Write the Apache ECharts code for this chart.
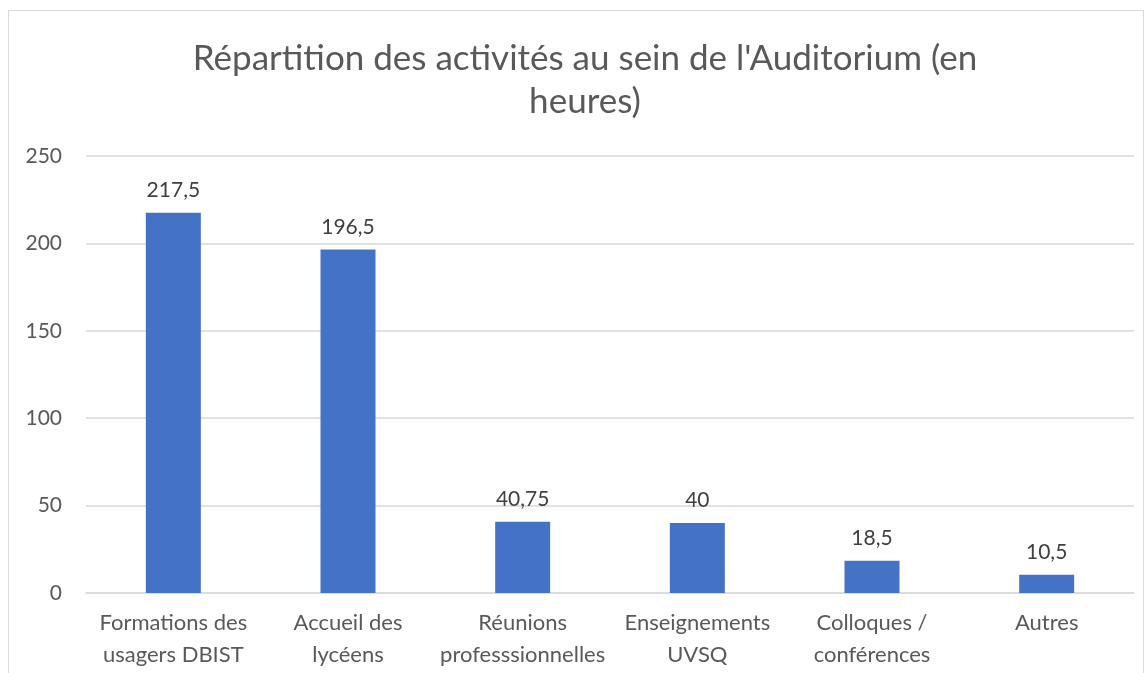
<!DOCTYPE html>
<html>
<head>
    <meta charset="utf-8">
    <title>ECharts</title>
    <script src="https://cdn.jsdelivr.net/npm/echarts@6/dist/echarts.min.js"></script>
    <style>
        body { margin: 0; background: #fff; }
        #main { position: absolute; left: 8px; top: 10px; width: 1134px; height: 680px; border: 1px solid #d9d9d9; }
    </style>
</head>
<body>
    <div id="main"></div>
    <script type="text/javascript">
        var categories = ['Formations des\nusagers DBIST', 'Accueil des\nlycéens', 'Réunions\nprofesssionnelles', 'Enseignements\nUVSQ', 'Colloques /\nconférences', 'Autres'];
        var heures = [217.5, 196.5, 40.75, 40, 18.5, 10.5];
        var yTicks = [0, 50, 100, 150, 200, 250];

        var myChart = echarts.init(document.getElementById('main'));
        var font = 'Lato, "Open Sans", sans-serif';
        var option = {
            backgroundColor: '#fff',
            animation: false,
            title: {
                text: "Répartition des activités au sein de l'Auditorium (en\nheures)",
                left: 576,
                textAlign: 'center',
                top: 26,
                padding: 0,
                textStyle: { fontFamily: font, fontWeight: 'normal', fontSize: 35, lineHeight: 43, color: '#595959' }
            },
            grid: { left: 77, right: 9, top: 145, bottom: 98 },
            xAxis: {
                type: 'category',
                data: categories,
                axisLine: { lineStyle: { color: '#d9d9d9', width: 1.5 } },
                axisTick: { show: false },
                axisLabel: { interval: 0, margin: 14, fontFamily: font, fontSize: 22, lineHeight: 32, color: '#595959' }
            },
            yAxis: {
                type: 'value',
                min: yTicks[0],
                max: yTicks[yTicks.length - 1],
                interval: 50,
                axisLine: { show: false },
                axisTick: { show: false },
                axisLabel: { margin: 24, fontFamily: font, fontSize: 21, color: '#595959' },
                splitLine: { lineStyle: { color: '#d9d9d9', width: 1.5 } }
            },
            series: [{
                type: 'bar',
                data: heures,
                barWidth: 55,
                itemStyle: { color: '#4472C4' },
                label: {
                    show: true,
                    position: 'top',
                    distance: 12,
                    fontFamily: font,
                    fontSize: 21,
                    color: '#404040',
                    formatter: function (p) { return String(p.value).replace('.', ','); }
                }
            }]
        };
        myChart.setOption(option);
    </script>
</body>
</html>
